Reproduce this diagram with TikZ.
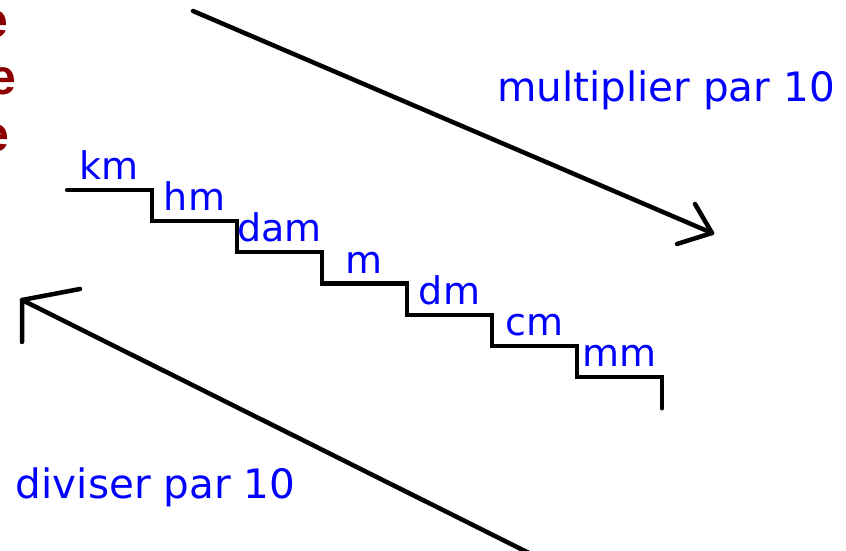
\documentclass[tikz,border=0pt]{standalone}
\usepackage{fontspec}
\setmainfont{DejaVu Sans}
\newfontfamily\redfont{Liberation Sans}
\usepackage{tikz}
\definecolor{darkred}{RGB}{140,0,0}
\tikzset{
  stair/.style={line width=4.2pt, line cap=round},
  arrowline/.style={line width=4.5pt, line cap=round, line join=round},
  unitlabel/.style={font=\fontsize{38}{42}\selectfont, text=blue, anchor=base, inner sep=0pt},
  bigtext/.style={font=\fontsize{40.5}{44}\selectfont, text=blue, anchor=base, inner sep=0pt},
  redtext/.style={font=\redfont\bfseries\fontsize{50}{54}\selectfont, text=darkred, anchor=base east, inner sep=0pt}
}

\begin{document}
\begin{tikzpicture}[x=1pt,y=1pt]
\useasboundingbox (0,0) rectangle (846,551);
\clip (0,0) rectangle (846,551);
\node[redtext] (e1) at (9,513) {e};
\node[redtext] (e2) at (17,456) {e};
\node[redtext] (e3) at (10,399) {e};
\draw[stair] (67,361) \foreach \i in {0,...,6} { -- ++(85,0) -- ++(0,-31.2) };
\foreach \u [count=\i from 0] in {km,hm,dam,m,dm,cm,mm}
  \node[unitlabel] (\u) at (109.5+85*\i,371.5-31.2*\i) {\u};
\coordinate (mulA) at (193,540);
\coordinate (mulB) at (712,318);
\draw[arrowline] (mulA) -- (mulB);
\draw[arrowline] (695,347) -- (mulB) -- (677,307);
\node[bigtext] (mul) at (666,449) {multiplier par 10};
\coordinate (divA) at (545,-10);
\coordinate (divB) at (22,251);
\draw[arrowline] (divA) -- (divB);
\draw[arrowline] (80,262) -- (divB) -- (22,209);
\node[bigtext] (div) at (155.5,52) {diviser par 10};
\end{tikzpicture}
\end{document}
